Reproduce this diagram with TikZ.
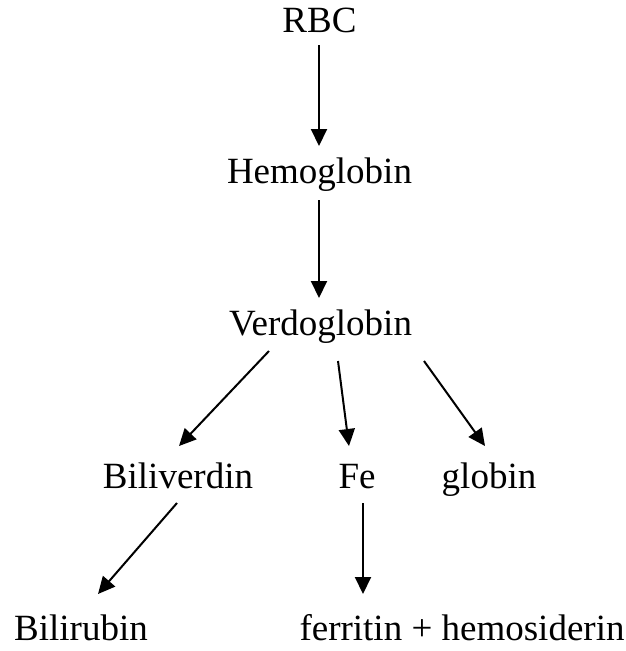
\documentclass[tikz,border=0pt]{standalone}
\usepackage{fontspec}
\setmainfont{Liberation Serif}
\usetikzlibrary{arrows.meta,calc}
\begin{document}
\begin{tikzpicture}[x=1pt,y=-1pt,
  lbl/.style={anchor=base,inner sep=0pt,font=\fontsize{37}{44}\selectfont},
  arr/.style={line width=2pt,-{Triangle[length=17pt,width=16pt]}}]
\useasboundingbox (0,0) rectangle (626,651);
\node[lbl] (rbc) at (319.5,32) {RBC};
\node[lbl] (hb) at (319.5,183) {Hemoglobin};
\node[lbl] (verd) at (320.5,335) {Verdoglobin};
\node[lbl] (bili) at (178,488) {Biliverdin};
\node[lbl] (fe) at (357,488) {Fe};
\node[lbl] (glob) at (489,488) {globin};
\node[lbl] (bilir) at (81,640) {Bilirubin};
\node[lbl] (ferr) at (462,640) {ferritin + hemosiderin};
\draw[arr] ($(rbc.base)+(-0.5,13)$) -- ($(hb.base)+(-0.5,-37)$);
\draw[arr] ($(hb.base)+(-0.5,17)$) -- ($(verd.base)+(-1.5,-37)$);
\draw[arr] ($(verd.base)+(-51.5,16)$) -- ($(bili.base)+(1,-42)$);
\draw[arr] ($(verd.base)+(17.5,26)$) -- ($(fe.base)+(-8,-42)$);
\draw[arr] ($(verd.base)+(103.5,26)$) -- ($(glob.base)+(-4,-42)$);
\draw[arr] ($(bili.base)+(-1,15)$) -- ($(bilir.base)+(17,-46)$);
\draw[arr] ($(fe.base)+(6,15)$) -- ($(ferr.base)+(-99,-46)$);
\end{tikzpicture}
\end{document}
